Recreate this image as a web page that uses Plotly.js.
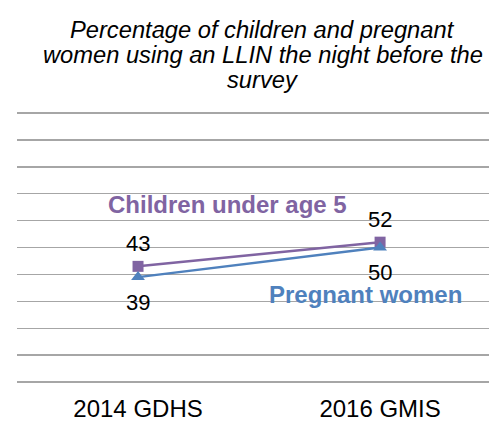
<!DOCTYPE html>
<html>
<head>
<meta charset="utf-8">
<script src="https://cdn.plot.ly/plotly-3.0.1.min.js"></script>
<style>html,body{margin:0;padding:0;background:#fff;}#chart{width:489px;height:421px;}</style>
</head>
<body>
<div id="chart"></div>
<script>
var categories = ["2014 GDHS", "2016 GMIS"];
var childrenValues = [43, 52];
var pregnantValues = [39, 50];
var childrenName = "Children under age 5";
var pregnantName = "Pregnant women";
var titleLines = ["Percentage of children and pregnant", "women using an LLIN the night before the", "survey"];

var purple = "#8064A2";
var blue = "#4F81BD";
var fontFam = "Liberation Sans, Arial, sans-serif";

var traces = [
  {
    x: categories, y: childrenValues, type: "scatter", mode: "lines+markers",
    name: childrenName,
    line: {color: purple, width: 2.5},
    marker: {symbol: "square", size: 11, color: purple},
    hoverinfo: "skip"
  },
  {
    x: categories, y: pregnantValues, type: "scatter", mode: "lines+markers",
    name: pregnantName,
    line: {color: blue, width: 2.5},
    marker: {symbol: "triangle-up", size: 12, color: blue},
    hoverinfo: "skip"
  }
];

var annotations = [];
categories.forEach(function(c, i) {
  annotations.push({x: c, y: childrenValues[i], xref: "x", yref: "y", text: String(childrenValues[i]),
    showarrow: false, yshift: 23, font: {family: fontFam, size: 22, color: "#000"}});
  annotations.push({x: c, y: pregnantValues[i], xref: "x", yref: "y", text: String(pregnantValues[i]),
    showarrow: false, yshift: -25, font: {family: fontFam, size: 22, color: "#000"}});
});
annotations.push({x: 0.37, y: 66, xref: "x", yref: "y", text: "<b>" + childrenName + "</b>", showarrow: false,
  font: {family: fontFam, size: 24, color: purple}});
annotations.push({x: 0.94, y: 32.6, xref: "x", yref: "y", text: "<b>" + pregnantName + "</b>", showarrow: false,
  font: {family: fontFam, size: 24, color: blue}});

// title lines
var titleY = [1.305, 1.211, 1.117];
titleLines.forEach(function(t, i) {
  annotations.push({x: 0.521, y: titleY[i], xref: "paper", yref: "paper", text: "<i>" + t + "</i>",
    showarrow: false, xanchor: "center", yanchor: "middle",
    font: {family: fontFam, size: 23.7, color: "#000"}});
});

var layout = {
  width: 489, height: 421,
  margin: {l: 17, r: 0, t: 112, b: 39, pad: 0},
  paper_bgcolor: "#fff", plot_bgcolor: "#fff",
  showlegend: false,
  xaxis: {
    type: "category", range: [-0.5, 1.45],
    showgrid: false, zeroline: false, showline: false, ticks: "",
    ticklabelstandoff: 10,
    tickfont: {family: fontFam, size: 24, color: "#000"},
    fixedrange: true
  },
  yaxis: {
    range: [0, 100.4], tickvals: [0,10,20,30,40,50,60,70,80,90,100], showticklabels: false, ticks: "",
    showgrid: true, gridcolor: "#a6a6a6", gridwidth: 1.3,
    zeroline: true, zerolinecolor: "#a6a6a6", zerolinewidth: 1.3,
    showline: false, fixedrange: true
  },
  annotations: annotations
};

Plotly.newPlot("chart", traces, layout, {displayModeBar: false, staticPlot: true});
</script>
</body>
</html>
